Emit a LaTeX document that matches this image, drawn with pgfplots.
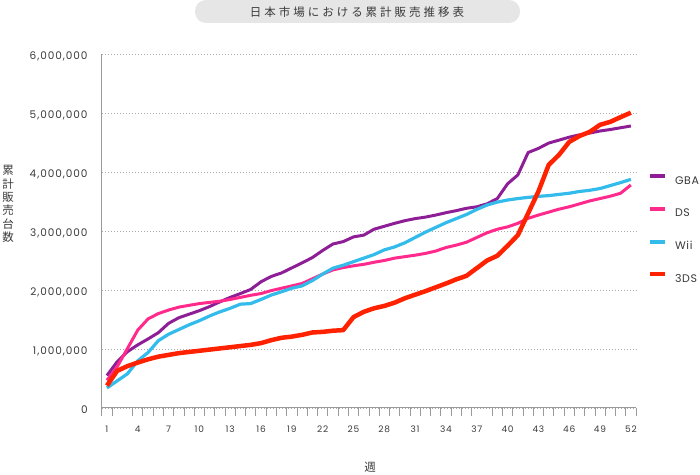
\documentclass[border=0pt]{standalone}
\usepackage{pgfplots}
\pgfplotsset{compat=1.18}
\usepackage{pgfplotstable}
\usepackage{fontspec}
\setmainfont{Poppins}
\newfontfamily\numfont{Poppins}[LetterSpace=9]
\newfontfamily\legfont{Poppins}[LetterSpace=6]
\newfontfamily\cjk{Noto Sans CJK JP}
\newfontfamily\cjktitle{Noto Sans CJK JP}[LetterSpace=26]
\definecolor{gba}{HTML}{8E1E96}
\definecolor{ds}{HTML}{FF2A8C}
\definecolor{wii}{HTML}{33BCEB}
\definecolor{tds}{HTML}{FF2200}
\definecolor{txt}{HTML}{3A3A3A}
\definecolor{axgray}{HTML}{9A9A9A}
\definecolor{gridgray}{HTML}{AAAAAA}
\definecolor{titlebg}{HTML}{E6E6E6}

\pgfplotstableread{
w GBA DS Wii TDS
1 550000 470000 340000 380000
2 785000 700000 460000 630000
3 955000 1010000 580000 710000
4 1070000 1320000 800000 770000
5 1170000 1510000 940000 825000
6 1276000 1600000 1140000 870000
7 1435000 1660000 1250000 900000
8 1530000 1710000 1330000 930000
9 1590000 1740000 1410000 950000
10 1650000 1770000 1480000 970000
11 1720000 1790000 1560000 990000
12 1800000 1810000 1630000 1010000
13 1875000 1840000 1690000 1030000
14 1940000 1875000 1760000 1050000
15 2010000 1910000 1770000 1070000
16 2140000 1940000 1840000 1100000
17 2230000 1990000 1915000 1150000
18 2290000 2030000 1970000 1190000
19 2375000 2070000 2030000 1210000
20 2460000 2110000 2070000 1240000
21 2550000 2190000 2160000 1280000
22 2670000 2270000 2270000 1290000
23 2780000 2340000 2370000 1310000
24 2820000 2380000 2420000 1320000
25 2900000 2410000 2480000 1540000
26 2930000 2435000 2540000 1630000
27 3030000 2470000 2600000 1690000
28 3080000 2500000 2680000 1730000
29 3130000 2540000 2730000 1785000
30 3175000 2565000 2800000 1860000
31 3210000 2590000 2890000 1920000
32 3235000 2620000 2980000 1980000
33 3270000 2660000 3060000 2045000
34 3310000 2720000 3140000 2110000
35 3345000 2760000 3210000 2180000
36 3385000 2810000 3280000 2240000
37 3410000 2890000 3365000 2370000
38 3460000 2970000 3440000 2500000
39 3550000 3030000 3490000 2580000
40 3800000 3070000 3525000 2750000
41 3950000 3130000 3550000 2930000
42 4330000 3215000 3570000 3300000
43 4400000 3270000 3587000 3670000
44 4490000 3320000 3600000 4120000
45 4540000 3370000 3620000 4290000
46 4590000 3410000 3640000 4510000
47 4630000 3460000 3670000 4610000
48 4660000 3510000 3690000 4680000
49 4695000 3550000 3720000 4800000
50 4720000 3590000 3770000 4850000
51 4750000 3640000 3820000 4930000
52 4780000 3780000 3875000 5005000
}\salesdata

\begin{document}
\begin{tikzpicture}
\useasboundingbox (0,0) rectangle (700bp,475bp);
\fill[titlebg, rounded corners=11bp] (195bp,452bp) rectangle (520bp,475bp);
\node[text=txt, inner sep=0pt, font=\cjktitle\fontsize{11.5bp}{13bp}\selectfont] at (357bp,463.3bp) {日本市場における累計販売推移表};
\node[text=txt, inner sep=0pt, align=center, font=\cjk\fontsize{11.5bp}{13.4bp}\selectfont] at (8bp,271bp) {累\\計\\販\\売\\台\\数};
\node[text=txt, inner sep=0pt, font=\cjk\fontsize{11.5bp}{13bp}\selectfont] at (370bp,8bp) {週};
\begin{axis}[
  at={(101.8bp,67bp)}, anchor=south west,
  scale only axis, width=534.2bp, height=354bp,
  xmin=0.5, xmax=52.5, ymin=0, ymax=6000000,
  axis x line*=bottom, axis y line*=left,
  axis line style={draw=axgray, line width=1bp},
  tick align=outside,
  major tick length=0pt,
  minor tick length=7.5bp,
  minor tick style={draw=axgray, line width=0.8bp},
  xtick={1,4,7,10,13,16,19,22,25,28,31,34,37,40,43,46,49,52},
  xticklabels={1,4,7,10,13,16,19,22,25,28,31,34,37,40,43,46,49,52},
  minor xtick={0.5,1.5,3.5,4.5,5.5,6.5,7.5,8.5,9.5,10.5,11.5,12.5,13.5,14.5,15.5,16.5,17.5,18.5,19.5,20.5,21.5,22.5,23.5,24.5,25.5,26.5,27.5,28.5,29.5,30.5,31.5,32.5,33.5,34.5,35.5,36.5,38.5,39.5,40.5,41.5,42.5,43.5,44.5,45.5,46.5,47.5,48.5,49.5,50.5,51.5,52.5},
  ytick={0,1000000,2000000,3000000,4000000,5000000,6000000},
  yticklabels={0,{1,000,000},{2,000,000},{3,000,000},{4,000,000},{5,000,000},{6,000,000}},
  scaled y ticks=false,
  xticklabel style={font=\numfont\fontsize{9bp}{10bp}\selectfont, text=txt, inner sep=0pt, anchor=north, yshift=-18bp},
  yticklabel style={font=\numfont\fontsize{10.5bp}{12bp}\selectfont, text=txt, inner sep=0pt, anchor=east, xshift=-14bp, yshift=-2bp},
  ymajorgrids,
  major grid style={draw=gridgray, dash pattern=on 1bp off 2bp, line width=0.8bp},
  legend image code/.code={\draw[#1, line width=4bp, line cap=butt] (0bp,4bp) -- (15bp,4bp);},
  legend cell align=left,
  legend style={draw=none, fill=none, at={(axis description cs:1.0225,0.661)}, anchor=north west,
    inner sep=0pt, outer sep=0pt, row sep=22.8bp,
    font=\legfont\fontsize{11bp}{13bp}\selectfont, text=txt,
    nodes={inner sep=0pt, text height=8bp, text depth=0bp},
    /tikz/every odd column/.append style={column sep=8bp}},
]
\addplot[gba, line width=3bp, line join=round] table[x=w, y=GBA] {\salesdata};
\addlegendentry{GBA}
\addplot[ds, line width=3bp, line join=round] table[x=w, y=DS] {\salesdata};
\addlegendentry{DS}
\addplot[wii, line width=3.2bp, line join=round] table[x=w, y=Wii] {\salesdata};
\addlegendentry{Wii}
\addplot[tds, line width=4.5bp, line join=round] table[x=w, y=TDS] {\salesdata};
\addlegendentry{3DS}
\end{axis}
\end{tikzpicture}
\end{document}
